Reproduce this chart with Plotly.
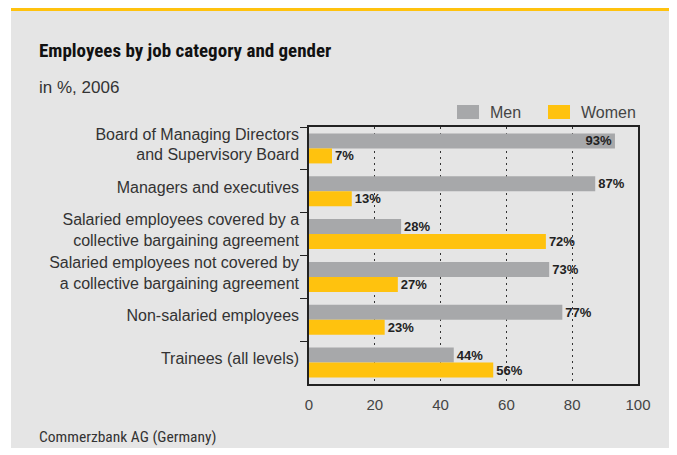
import plotly.graph_objects as go

categories = [
    "Board of Managing Directors<br>and Supervisory Board",
    "Managers and executives",
    "Salaried employees covered by a<br>collective bargaining agreement",
    "Salaried employees not covered by<br>a collective bargaining agreement",
    "Non-salaried employees",
    "Trainees (all levels)",
]
men = [93, 87, 28, 73, 77, 44]
women = [7, 13, 72, 27, 23, 56]
x_ticks = [0, 20, 40, 60, 80, 100]
series_names = ["Men", "Women"]

# page is offset by the default body margin (8px); work in page coordinates
OFF = 8
PAGE_W, PAGE_H = 677, 455
W, H = PAGE_W - OFF, PAGE_H - OFF
PL, PR, PT, PB = 309, 638, 127, 384  # plot area in page coordinates
L, T = PL - OFF, PT - OFF
R, B = W - (PR - OFF), H - (PB - OFF)
pw, ph = PR - PL, PB - PT

def px(x):
    return (x - PL) / pw

def py(y):
    return (PB - y) / ph

GRAY = "#A7A8AA"
YELLOW = "#FFC20E"
FONT = "Liberation Sans, Arial, sans-serif"
NARROW = "Liberation Sans Narrow, Arial Narrow, Roboto Condensed, Roboto, sans-serif"

def positions(vals):
    return ["inside" if v > 90 else "outside" for v in vals]

fig = go.Figure()
for name, vals, col in [(series_names[0], men, GRAY), (series_names[1], women, YELLOW)]:
    fig.add_trace(go.Bar(
        y=categories, x=vals, orientation="h", name=name,
        marker=dict(color=col, line=dict(width=0)),
        text=[f"{v}%" for v in vals], textposition=positions(vals),
        insidetextanchor="end", cliponaxis=False, constraintext="none",
        textfont=dict(family=FONT, size=13, color="#222222", weight="bold"),
        showlegend=False,
    ))

shapes = [
    dict(type="rect", xref="paper", yref="paper", x0=px(11), x1=px(680), y0=py(448), y1=py(8),
         fillcolor="#E5E5E5", line=dict(width=0), layer="below"),
    dict(type="rect", xref="paper", yref="paper", x0=px(11), x1=px(680), y0=py(11), y1=py(8),
         fillcolor=YELLOW, line=dict(width=0), layer="below"),
    # legend swatches
    dict(type="rect", xref="paper", yref="paper", x0=px(457), x1=px(479), y0=py(119), y1=py(105),
         fillcolor=GRAY, line=dict(width=0)),
    dict(type="rect", xref="paper", yref="paper", x0=px(548), x1=px(570), y0=py(119), y1=py(105),
         fillcolor=YELLOW, line=dict(width=0)),
]

annotations = [
    dict(text="<b>Employees by job category and gender</b>", x=px(37), y=py(51), xref="paper", yref="paper",
         xanchor="left", yanchor="middle", showarrow=False,
         font=dict(family=NARROW, size=19, color="#111111")),
    dict(text="in %, 2006", x=px(37), y=py(87), xref="paper", yref="paper",
         xanchor="left", yanchor="middle", showarrow=False,
         font=dict(family=FONT, size=17, color="#333333")),
    dict(text="Commerzbank AG (Germany)", x=px(37), y=py(437), xref="paper", yref="paper",
         xanchor="left", yanchor="middle", showarrow=False,
         font=dict(family=NARROW, size=15.5, color="#333333")),
    dict(text=series_names[0], x=px(488), y=py(112), xref="paper", yref="paper",
         xanchor="left", yanchor="middle", showarrow=False,
         font=dict(family=FONT, size=16, color="#444444")),
    dict(text=series_names[1], x=px(579), y=py(112), xref="paper", yref="paper",
         xanchor="left", yanchor="middle", showarrow=False,
         font=dict(family=FONT, size=16, color="#444444")),
]

fig.update_layout(
    width=W, height=H,
    margin=dict(l=L, r=R, t=T, b=B, pad=0),
    paper_bgcolor="white", plot_bgcolor="white",
    barmode="group", bargap=0.3, bargroupgap=0,
    font=dict(family=FONT, color="#444444"),
    showlegend=False,
    shapes=shapes, annotations=annotations,
)
fig.update_xaxes(
    range=[0, 100], tickvals=x_ticks, ticktext=[str(v) for v in x_ticks],
    showgrid=True, gridcolor="#333333", gridwidth=1, griddash="2px,4px",
    showline=True, linecolor="#222222", linewidth=1.5, mirror=True,
    ticks="outside", ticklen=6, tickcolor="rgba(0,0,0,0)",
    tickfont=dict(family=FONT, size=15, color="#444444"), zeroline=False, fixedrange=True,
)
fig.update_yaxes(
    autorange="reversed", type="category", tickson="boundaries",
    showline=True, linecolor="#222222", linewidth=1.5, mirror=True,
    ticks="outside", ticklen=7, tickcolor="#222222", tickwidth=1,
    ticklabelstandoff=5, ticklabelshift=4,
    tickfont=dict(family=FONT, size=16, color="#333333"), showgrid=False, fixedrange=True,
)

fig.write_html("out.html")
